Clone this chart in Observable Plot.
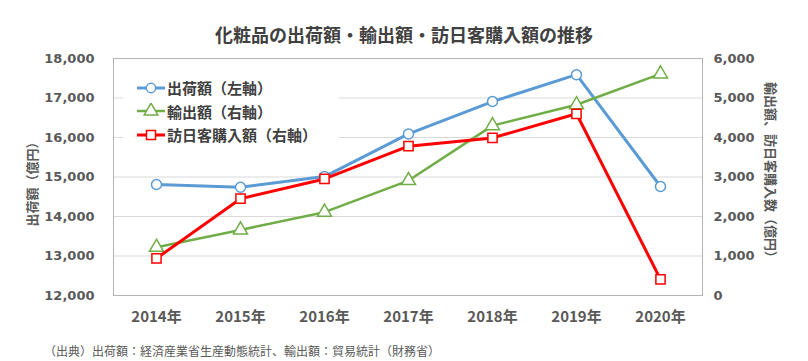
<!DOCTYPE html>
<html><head><meta charset="utf-8">
<script src="https://cdn.jsdelivr.net/npm/d3@7"></script>
<script src="https://cdn.jsdelivr.net/npm/@observablehq/plot@0.6"></script>
<style>
body{margin:0;background:#fff;}
#wrap{position:relative;width:808px;height:361px;font-family:'Noto Sans CJK JP',sans-serif;overflow:hidden;}
#title{height:45px;box-sizing:border-box;padding-top:22px;line-height:24px;text-align:center;font-size:18px;font-weight:bold;color:#404040;}
#caption{position:absolute;left:44px;top:341px;line-height:20px;font-size:12px;color:#595959;white-space:nowrap;}
#legend{position:absolute;left:123px;top:72px;width:216px;background:#fff;padding:4px 0;}
.row{display:flex;align-items:center;height:23.5px;font-size:15px;font-weight:bold;color:#404040;white-space:nowrap;}
.row svg{margin-left:14px;margin-right:2px;}
</style></head>
<body>
<div id="wrap">
<div id="title">化粧品の出荷額・輸出額・訪日客購入額の推移</div>
<div id="chart"></div>
<div id="legend"></div>
<div id="caption">（出典）出荷額：経済産業省生産動態統計、輸出額：貿易統計（財務省）</div>
</div>
<script>
const years = ["2014","2015","2016","2017","2018","2019","2020"];
const shipments = [14810, 14740, 15010, 16090, 16910, 17590, 14760]; // 左軸
const exportsVal = [1220, 1660, 2110, 2910, 4300, 4830, 5610];     // 右軸
const inbound = [940, 2450, 2950, 3780, 3990, 4600, 410];          // 右軸
const leftTicks = [12000, 13000, 14000, 15000, 16000, 17000, 18000];
const seriesNames = ["出荷額（左軸）", "輸出額（右軸）", "訪日客購入額（右軸）"];
const colors = ["#5b9bd5", "#70ad47", "#ff0000"];
const symbols = ["circle", "triangle", "square"];

const OFFSET = 12000; // right axis 0 aligned with left 12,000
const rows = [];
years.forEach((y, i) => {
  rows.push({year: y, series: seriesNames[0], v: shipments[i]});
  rows.push({year: y, series: seriesNames[1], v: exportsVal[i] + OFFSET});
  rows.push({year: y, series: seriesNames[2], v: inbound[i] + OFFSET});
});
const fmt = d3.format(",");
const marks = [
  Plot.gridY(leftTicks, {stroke: "#d9d9d9", strokeOpacity: 1}),
  Plot.frame({stroke: "#b4b4b4"}),
  Plot.axisX({tickSize: 0, tickPadding: 16, tickFormat: d => d + "年", fontSize: 15, fontWeight: "bold", fill: "#595959", label: null}),
  Plot.axisY({anchor: "left", ticks: leftTicks, tickSize: 0, tickPadding: 19, tickFormat: fmt, fontFamily: "DejaVu Sans", fontSize: 13, fontWeight: "bold", fill: "#595959", label: null}),
  Plot.axisY({anchor: "right", ticks: leftTicks, tickSize: 0, tickPadding: 11, tickFormat: d => fmt(d - OFFSET), fontFamily: "DejaVu Sans", fontSize: 13, fontWeight: "bold", fill: "#595959", label: null}),
  Plot.text(["出荷額（億円）"], {frameAnchor: "left", textAnchor: "middle", rotate: -90, dx: -81, dy: 4, fontSize: 13, fontWeight: "bold", fill: "#595959"}),
  Plot.text(["輸出額、訪日客購入数（億円）"], {frameAnchor: "right", textAnchor: "middle", rotate: 90, dx: 68, dy: -4, fontSize: 13, fontWeight: "bold", fill: "#595959"})
];
seriesNames.forEach((s, k) => {
  const data = rows.filter(r => r.series === s);
  marks.push(Plot.line(data, {x: "year", y: "v", stroke: colors[k], strokeWidth: k === 1 ? 2.5 : 3}));
  marks.push(Plot.dot(data, {x: "year", y: "v", symbol: () => symbols[k], r: k === 0 ? 5 : 5.2, stroke: colors[k], strokeWidth: 1.5, fill: "white"}));
});
const chart = Plot.plot({
  width: 808, height: 290,
  marginTop: 13, marginBottom: 40, marginLeft: 113, marginRight: 106,
  style: {fontFamily: "'Noto Sans CJK JP', sans-serif", background: "white"},
  x: {type: "point", domain: years, padding: 0.5},
  y: {domain: [12000, 18000]},
  symbol: {type: "identity"},
  marks
});
document.getElementById("chart").appendChild(chart);

const legend = d3.select("#legend");
seriesNames.forEach((s, k) => {
  const row = legend.append("div").attr("class", "row");
  const svg = row.append("svg").attr("width", 28).attr("height", 16);
  svg.append("line").attr("x1", 0).attr("x2", 28).attr("y1", 8).attr("y2", 8).attr("stroke", colors[k]).attr("stroke-width", k === 1 ? 2.5 : 3);
  svg.append("path").attr("transform", "translate(14,8)")
    .attr("d", d3.symbol(k === 0 ? d3.symbolCircle : k === 1 ? d3.symbolTriangle : d3.symbolSquare, Math.PI * (k === 0 ? 22 : 26))())
    .attr("fill", "white").attr("stroke", colors[k]).attr("stroke-width", 1.5);
  row.append("span").text(s);
});
</script>
</body></html>
